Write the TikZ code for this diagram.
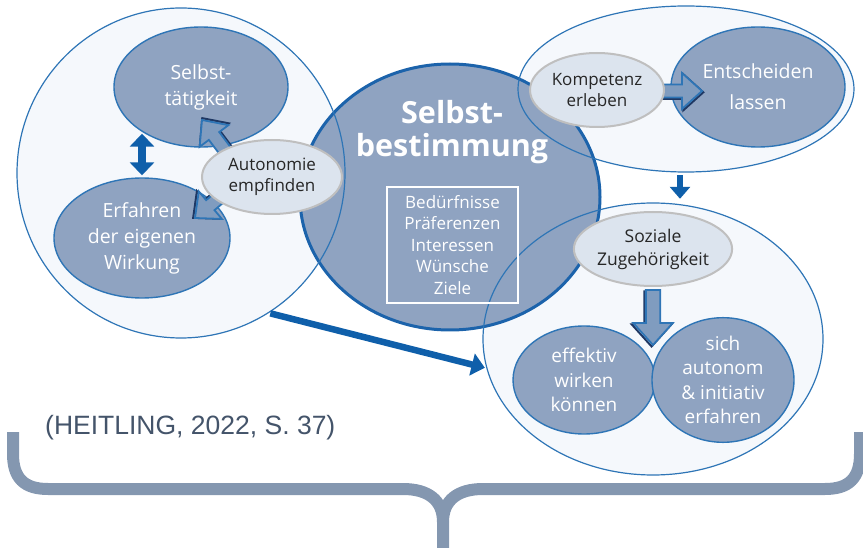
\documentclass[tikz,border=0pt]{standalone}
\usepackage{fontspec}
\setmainfont{Open Sans}
\newfontfamily\citefont{Liberation Sans}
\usepackage{tikz}
\usetikzlibrary{arrows.meta,shapes.geometric}
\definecolor{darkfill}{HTML}{8FA3C1}
\definecolor{lightfill}{HTML}{F5F8FC}
\definecolor{paleellipse}{HTML}{DCE4EE}
\definecolor{lineblue}{HTML}{2E75B6}
\definecolor{deepblue}{HTML}{1C63AB}
\definecolor{arrowblue}{HTML}{0F5FAA}
\definecolor{shadenavy}{HTML}{1F3864}
\definecolor{bracegray}{HTML}{8497B0}
\definecolor{citegray}{HTML}{44546A}
\newcommand{\fs}[2]{\fontsize{#1}{#2}\selectfont}

\begin{document}
\begin{tikzpicture}[x=1pt, y=-1pt,
  outer/.style={ellipse, inner sep=0pt, fill=lightfill},
  rim/.style={draw=lineblue, line width=1.2pt},
  inner/.style={ellipse, draw=lineblue, line width=1.4pt, fill=darkfill, text=white,
                align=center, inner sep=0pt, font=\fs{19.5}{26}},
  pale/.style={ellipse, draw=black!25, line width=2pt, fill=paleellipse, text=black!85,
               align=center, inner sep=0pt, font=\fs{17}{21.5}},
  tip/.style={-{Triangle[width=#1,length=0.6*#1]}},
  blockarrow/.pic={
    \draw[shadenavy, line width=2pt, shift={(1.3,1.3)}]
      (0,0) -- (-20,-18) -- (-20,-6.5) -- (-50,-6.5) -- (-50,6.5) -- (-20,6.5) -- (-20,18) -- cycle;
    \draw[lineblue, line width=1.8pt, fill=darkfill!85!lineblue]
      (0,0) -- (-20,-18) -- (-20,-6.5) -- (-50,-6.5) -- (-50,6.5) -- (-20,6.5) -- (-20,18) -- cycle;
  }
]
  \useasboundingbox (0,0) rectangle (863,548);

  % the three outer fields
  \node[outer, minimum width=328pt, minimum height=330pt] (L) at (181,173) {};
  \node[outer, minimum width=336pt, minimum height=166pt] (TR) at (686,89) {};
  \node[outer, minimum width=340pt, minimum height=272pt] (BR) at (653,339) {};

  % centre
  \node[ellipse, draw=deepblue, line width=3pt, fill=darkfill, minimum width=300pt,
        minimum height=266pt] (S) at (450,197) {};
  \draw[rim] (L.center) ellipse [x radius=164pt, y radius=165pt];
  \draw[rim] (TR.center) ellipse [x radius=168pt, y radius=83pt];
  \draw[rim] (BR.center) ellipse [x radius=170pt, y radius=136pt];

  \node[text=white, align=center, font=\bfseries\fs{30.5}{33}] (title) at (452,132)
    {Selbst-\\bestimmung};
  \node[draw=white, line width=2.5pt, minimum width=131pt, minimum height=116pt,
        text=white, align=center, font=\fs{17}{21.5}] (needs) at (452.5,245)
    {Bedürfnisse\\Präferenzen\\Interessen\\Wünsche\\Ziele};

  \node[inner, minimum width=174pt, minimum height=120pt] (T) at (201,87) {Selbst-\\tätigkeit};
  \node[inner, minimum width=176pt, minimum height=120pt] (E) at (142,238) {Erfahren\\der eigenen\\Wirkung};
  \node[inner, minimum width=174pt, minimum height=120pt, font=\fs{19.5}{31}] (D) at (758,87) {Entscheiden\\lassen};
  \node[inner, minimum width=142pt, minimum height=108pt, font=\fs{19}{24.5}] (W) at (584,380) {effektiv\\wirken\\können};
  \node[inner, minimum width=142pt, minimum height=108pt, font=\fs{19}{24.5}] (I) at (723,380) {sich\\autonom\\\& initiativ\\erfahren};

  % hollow arrows (tip at the given point)
  \pic[rotate=127] (up) at (202,120) {blockarrow};
  \pic[rotate=220] (dn) at (195,218) {blockarrow};
  \pic (rt) at (702,91) {blockarrow};
  \pic[rotate=-90, scale=1.1] (down) at (653,345) {blockarrow};

  \node[pale, minimum width=140pt, minimum height=74pt] (A) at (272,177) {Autonomie\\empfinden};
  \node[pale, minimum width=134pt, minimum height=74pt] (K) at (597,90) {Kompetenz\\erleben};
  \node[pale, minimum width=156pt, minimum height=74pt, font=\fs{17.5}{23}] (Z) at (653,249) {Soziale\\Zugehörigkeit};

  % solid arrows
  \draw[arrowblue, line width=8pt, {Triangle[width=24pt,length=13pt]}-{Triangle[width=24pt,length=13pt]},
        shorten <=2pt, shorten >=2pt] (E.north |- T.217) -- (E.north);
  \draw[arrowblue, line width=6.5pt, tip=22pt, shorten <=2pt, shorten >=2pt] (L.-58) -- (BR.190);
  \draw[arrowblue, line width=6pt, tip=20pt] ([xshift=-6pt,yshift=-3pt]TR.south)
    -- ([xshift=-6pt,yshift=4pt]TR.south |- BR.north);

  % brace
  \draw[bracegray, line width=12pt] (13,432) -- (13,454) .. controls (13,478) and (24,489) .. (48,489)
    -- (403,489) .. controls (428,489) and (443,500) .. (443,522) -- (443,552);
  \draw[bracegray, line width=12pt] (860,432) -- (860,454) .. controls (860,478) and (849,489) .. (825,489)
    -- (483,489) .. controls (458,489) and (443,500) .. (443,522);

  \node[font=\citefont\fs{26.5}{30}, text=citegray, anchor=base west, inner sep=0pt] (cite) at (45,434)
    {(HEITLING, 2022, S. 37)};
\end{tikzpicture}
\end{document}
